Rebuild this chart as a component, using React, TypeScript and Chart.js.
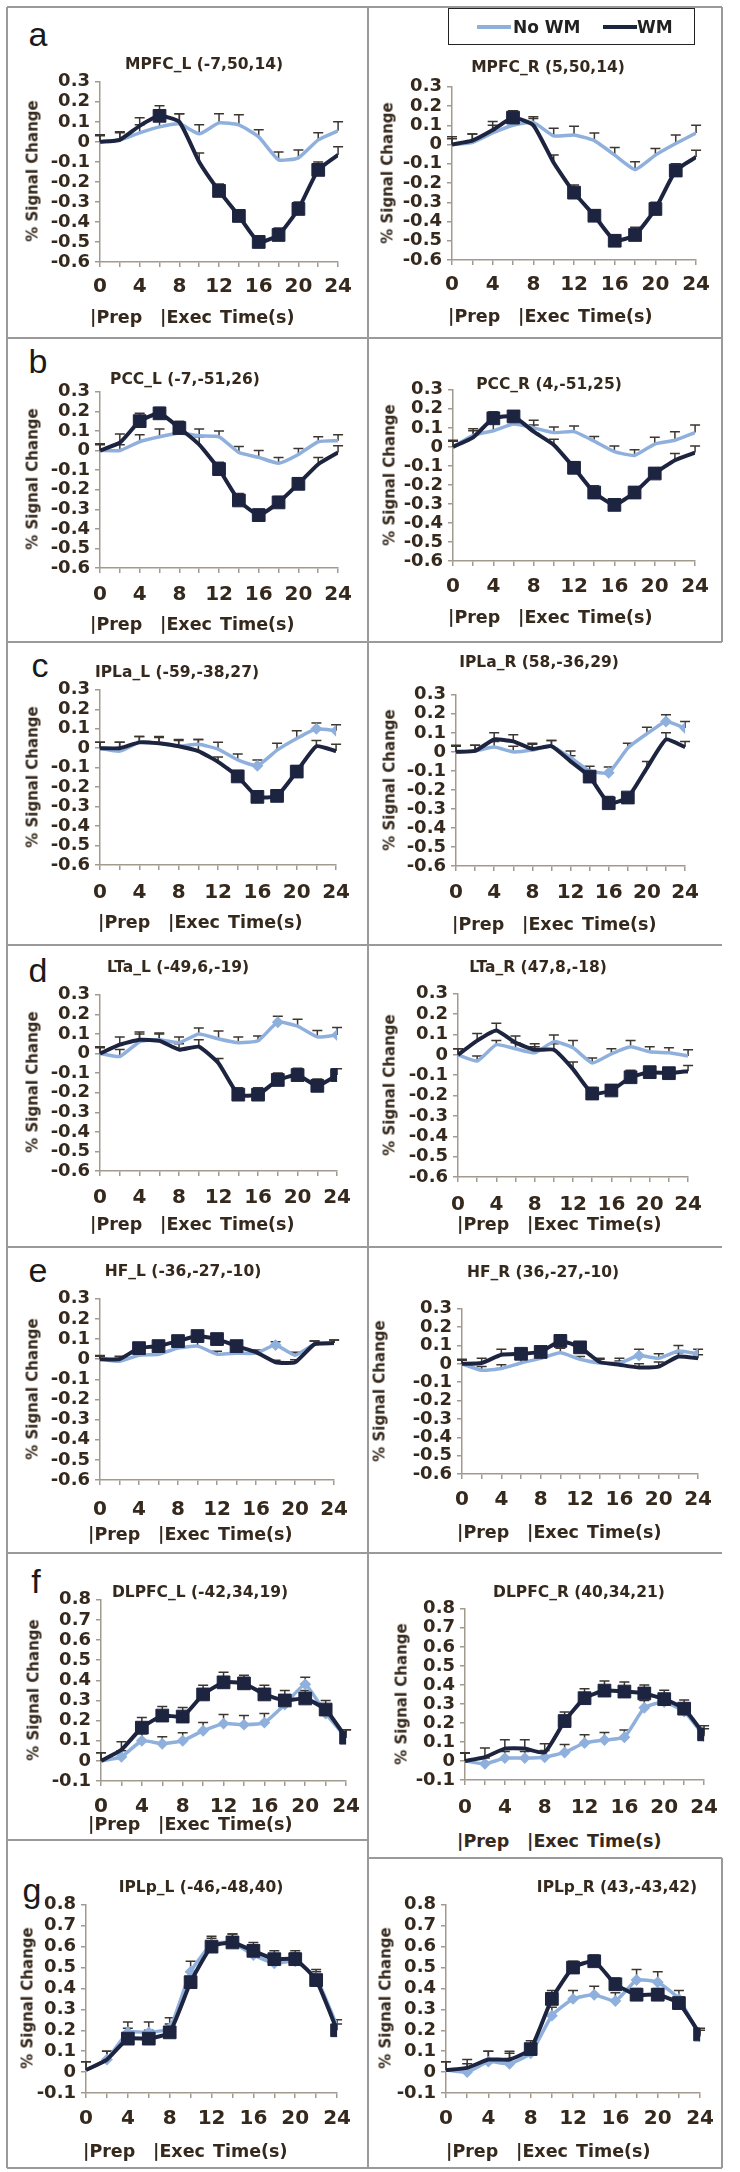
import React, { useEffect, useRef } from 'react';
import { Chart, registerables } from 'chart.js';
Chart.register(...registerables);

// ---------- data ----------
const TIME = [0, 2, 4, 6, 8, 10, 12, 14, 16, 18, 20, 22, 24];
const X_TICK_LABELS = ['0', '4', '8', '12', '16', '20', '24'];
const Y_TICKS_DEACT = [-0.6, -0.5, -0.4, -0.3, -0.2, -0.1, 0, 0.1, 0.2, 0.3];
const Y_TICKS_ACT = [-0.1, 0, 0.1, 0.2, 0.3, 0.4, 0.5, 0.6, 0.7, 0.8];
const SERIES_NAMES = ['No WM', 'WM'];

// a: MPFC
const MPFC_L_NOWM = [0, 0.01, 0.045, 0.075, 0.09, 0.04, 0.095, 0.085, 0.025, -0.09, -0.08, 0.01, 0.055];
const MPFC_L_NOWM_ERR = [0.035, 0.04, 0.04, 0.05, 0.05, 0.045, 0.045, 0.05, 0.035, 0.04, 0.04, 0.035, 0.045];
const MPFC_L_WM = [0, 0.01, 0.08, 0.13, 0.1, -0.1, -0.245, -0.37, -0.5, -0.465, -0.335, -0.14, -0.065];
const MPFC_L_WM_ERR = [0.03, 0.035, 0.04, 0.05, 0.04, 0.045, 0.035, 0.03, 0.03, 0.035, 0.035, 0.04, 0.04];
const MPFC_L_MARKS = [3, 6, 7, 8, 9, 10, 11];

const MPFC_R_NOWM = [0, 0.01, 0.06, 0.1, 0.115, 0.045, 0.05, 0.02, -0.055, -0.13, -0.055, 0.005, 0.06];
const MPFC_R_NOWM_ERR = [0.04, 0.045, 0.04, 0.04, 0.03, 0.04, 0.045, 0.04, 0.04, 0.04, 0.035, 0.045, 0.04];
const MPFC_R_WM = [0, 0.02, 0.075, 0.14, 0.1, -0.095, -0.25, -0.37, -0.5, -0.47, -0.335, -0.135, -0.065];
const MPFC_R_WM_ERR = [0.03, 0.035, 0.045, 0.035, 0.035, 0.04, 0.04, 0.03, 0.03, 0.04, 0.035, 0.035, 0.035];
const MPFC_R_MARKS = [3, 6, 7, 8, 9, 10, 11];

// b: PCC
const PCC_L_NOWM = [0, 0, 0.045, 0.07, 0.09, 0.075, 0.07, -0.01, -0.035, -0.065, -0.02, 0.045, 0.05];
const PCC_L_NOWM_ERR = [0.035, 0.03, 0.035, 0.04, 0.03, 0.035, 0.03, 0.03, 0.035, 0.03, 0.03, 0.025, 0.03];
const PCC_L_WM = [0, 0.04, 0.15, 0.19, 0.115, 0.03, -0.095, -0.255, -0.33, -0.265, -0.17, -0.07, -0.01];
const PCC_L_WM_ERR = [0.03, 0.045, 0.04, 0.03, 0.035, 0.04, 0.035, 0.035, 0.03, 0.03, 0.03, 0.035, 0.035];
const PCC_L_MARKS = [2, 3, 4, 6, 7, 8, 9, 10];

const PCC_R_NOWM = [0, 0.06, 0.085, 0.12, 0.1, 0.075, 0.08, 0.03, -0.025, -0.045, 0.015, 0.035, 0.075];
const PCC_R_NOWM_ERR = [0.035, 0.035, 0.04, 0.035, 0.04, 0.03, 0.03, 0.025, 0.03, 0.03, 0.035, 0.045, 0.04];
const PCC_R_WM = [0, 0.05, 0.15, 0.16, 0.08, 0.01, -0.11, -0.24, -0.305, -0.24, -0.14, -0.07, -0.03];
const PCC_R_WM_ERR = [0.03, 0.035, 0.035, 0.03, 0.035, 0.03, 0.03, 0.035, 0.03, 0.03, 0.03, 0.035, 0.035];
const PCC_R_MARKS = [2, 3, 6, 7, 8, 9, 10];

// c: IPLa
const IPLA_L_NOWM = [0, -0.015, 0.03, 0.025, 0.01, 0.02, -0.005, -0.06, -0.09, -0.01, 0.05, 0.1, 0.09];
const IPLA_L_NOWM_ERR = [0.03, 0.045, 0.03, 0.035, 0.035, 0.025, 0.035, 0.03, 0.03, 0.035, 0.04, 0.03, 0.03];
const IPLA_L_WM = [0, 0, 0.03, 0.025, 0.01, -0.015, -0.07, -0.145, -0.25, -0.245, -0.12, 0.01, -0.015];
const IPLA_L_WM_ERR = [0.03, 0.03, 0.03, 0.03, 0.03, 0.06, 0.025, 0.03, 0.025, 0.02, 0.03, 0.03, 0.035];
const IPLA_L_MARKS = [7, 8, 9, 10];
const IPLA_L_NOWM_MARKS = [8, 11, 12];

const IPLA_R_NOWM = [0, 0.005, 0.025, 0, 0.01, 0.03, -0.03, -0.1, -0.11, 0.02, 0.095, 0.16, 0.125];
const IPLA_R_NOWM_ERR = [0.035, 0.03, 0.03, 0.03, 0.03, 0.03, 0.035, 0.025, 0.03, 0.025, 0.035, 0.035, 0.035];
const IPLA_R_WM = [0, 0.005, 0.065, 0.055, 0.015, 0.03, -0.05, -0.13, -0.27, -0.24, -0.085, 0.065, 0.025];
const IPLA_R_WM_ERR = [0.03, 0.03, 0.035, 0.035, 0.03, 0.03, 0.03, 0.03, 0.035, 0.025, 0.035, 0.035, 0.03];
const IPLA_R_MARKS = [7, 8, 9];
const IPLA_R_NOWM_MARKS = [8, 11, 12];

// d: LTa
const LTA_L_NOWM = [0, -0.015, 0.06, 0.07, 0.055, 0.1, 0.075, 0.055, 0.065, 0.16, 0.14, 0.085, 0.095];
const LTA_L_NOWM_ERR = [0.035, 0.035, 0.04, 0.035, 0.03, 0.03, 0.04, 0.03, 0.025, 0.03, 0.035, 0.033, 0.038];
const LTA_L_WM = [0, 0.045, 0.07, 0.065, 0.02, 0.035, -0.05, -0.21, -0.21, -0.135, -0.11, -0.165, -0.11];
const LTA_L_WM_ERR = [0.03, 0.04, 0.04, 0.035, 0.03, 0.035, 0.025, 0.035, 0.035, 0.035, 0.035, 0.035, 0.032];
const LTA_L_MARKS = [7, 8, 9, 10, 11, 12];
const LTA_L_NOWM_MARKS = [9, 12];

const LTA_R_NOWM = [0, -0.03, 0.05, 0.03, 0.01, 0.065, 0.035, -0.04, 0.005, 0.04, 0.015, 0.01, -0.005];
const LTA_R_NOWM_ERR = [0.03, 0.025, 0.02, 0.03, 0.03, 0.033, 0.035, 0.025, 0.025, 0.03, 0.025, 0.025, 0.03];
const LTA_R_WM = [0, 0.07, 0.12, 0.06, 0.025, 0.025, -0.07, -0.19, -0.175, -0.11, -0.085, -0.09, -0.08];
const LTA_R_WM_ERR = [0.03, 0.035, 0.035, 0.033, 0.03, 0.03, 0.035, 0.03, 0.025, 0.035, 0.025, 0.025, 0.028];
const LTA_R_MARKS = [7, 8, 9, 10, 11];

// e: HF
const HF_L_NOWM = [0, -0.01, 0.02, 0.025, 0.055, 0.065, 0.025, 0.03, 0.03, 0.07, 0.02, 0.075, 0.08];
const HF_L_NOWM_ERR = [0.015, 0.015, 0.015, 0.015, 0.015, 0.023, 0.015, 0.015, 0.015, 0.017, 0.015, 0.015, 0.015];
const HF_L_WM = [0, 0, 0.055, 0.065, 0.09, 0.115, 0.1, 0.065, 0.035, -0.015, -0.015, 0.075, 0.08];
const HF_L_WM_ERR = [0.018, 0.015, 0.02, 0.02, 0.02, 0.02, 0.02, 0.02, 0.01, 0.01, 0.012, 0.015, 0.015];
const HF_L_MARKS = [2, 3, 4, 5, 6, 7];
const HF_L_NOWM_MARKS = [9];

const HF_R_NOWM = [0, -0.035, -0.025, 0.005, 0.03, 0.06, 0.025, 0.005, 0.005, 0.045, 0.03, 0.07, 0.055];
const HF_R_NOWM_ERR = [0.025, 0.02, 0.02, 0.02, 0.02, 0.025, 0.015, 0.02, 0.025, 0.035, 0.025, 0.03, 0.025];
const HF_R_WM = [0, 0.005, 0.05, 0.055, 0.065, 0.125, 0.09, 0.01, -0.005, -0.02, -0.015, 0.04, 0.03];
const HF_R_WM_ERR = [0.02, 0.025, 0.03, 0.02, 0.02, 0.02, 0.02, 0.02, 0.02, 0.02, 0.025, 0.02, 0.02];
const HF_R_MARKS = [3, 4, 5, 6];
const HF_R_NOWM_MARKS = [9, 12];

// f: DLPFC
const DLPFC_L_NOWM = [0, 0.02, 0.1, 0.085, 0.1, 0.15, 0.185, 0.18, 0.19, 0.28, 0.38, 0.235, 0.115];
const DLPFC_L_NOWM_ERR = [0.04, 0.03, 0.035, 0.035, 0.04, 0.04, 0.045, 0.045, 0.045, 0.04, 0.035, 0.04, 0.04];
const DLPFC_L_WM = [0, 0.055, 0.165, 0.225, 0.22, 0.33, 0.39, 0.385, 0.33, 0.3, 0.31, 0.255, 0.115];
const DLPFC_L_WM_ERR = [0.04, 0.04, 0.05, 0.045, 0.045, 0.045, 0.05, 0.04, 0.045, 0.05, 0.04, 0.045, 0.04];
const DLPFC_L_MARKS = [2, 3, 4, 5, 6, 7, 8, 9, 10, 11, 12];
const DLPFC_L_NOWM_MARKS = [1, 2, 3, 4, 5, 6, 7, 8, 9, 10, 11, 12];

const DLPFC_R_NOWM = [0, -0.015, 0.015, 0.015, 0.02, 0.045, 0.095, 0.11, 0.125, 0.28, 0.31, 0.26, 0.13];
const DLPFC_R_NOWM_ERR = [0.04, 0.03, 0.035, 0.035, 0.035, 0.042, 0.043, 0.04, 0.038, 0.038, 0.04, 0.04, 0.04];
const DLPFC_R_WM = [0, 0.02, 0.065, 0.065, 0.045, 0.21, 0.33, 0.37, 0.365, 0.355, 0.325, 0.275, 0.14];
const DLPFC_R_WM_ERR = [0.043, 0.048, 0.047, 0.047, 0.045, 0.048, 0.05, 0.05, 0.05, 0.045, 0.047, 0.045, 0.045];
const DLPFC_R_MARKS = [5, 6, 7, 8, 9, 10, 11, 12];
const DLPFC_R_NOWM_MARKS = [1, 2, 3, 4, 5, 6, 7, 8, 9, 10, 11, 12];

// g: IPLp
const IPLP_L_NOWM = [0.01, 0.06, 0.19, 0.19, 0.21, 0.48, 0.61, 0.62, 0.56, 0.52, 0.53, 0.45, 0.22];
const IPLP_L_NOWM_ERR = [0.04, 0.04, 0.05, 0.05, 0.05, 0.05, 0.04, 0.04, 0.04, 0.04, 0.04, 0.04, 0.03];
const IPLP_L_WM = [0.01, 0.06, 0.16, 0.16, 0.19, 0.43, 0.6, 0.62, 0.58, 0.54, 0.54, 0.44, 0.2];
const IPLP_L_WM_ERR = [0.04, 0.04, 0.05, 0.04, 0.04, 0.05, 0.04, 0.04, 0.04, 0.04, 0.04, 0.04, 0.03];
const IPLP_L_MARKS = [2, 3, 4, 5, 6, 7, 8, 9, 10, 11, 12];
const IPLP_L_NOWM_MARKS = [1, 2, 3, 4, 5, 6, 7, 8, 9, 10, 11, 12];

const IPLP_R_NOWM = [0.01, 0, 0.05, 0.04, 0.09, 0.27, 0.35, 0.37, 0.34, 0.44, 0.43, 0.35, 0.17];
const IPLP_R_NOWM_ERR = [0.04, 0.04, 0.05, 0.05, 0.04, 0.04, 0.04, 0.04, 0.04, 0.05, 0.05, 0.04, 0.03];
const IPLP_R_WM = [0.01, 0.02, 0.06, 0.06, 0.11, 0.35, 0.5, 0.53, 0.42, 0.37, 0.37, 0.33, 0.18];
const IPLP_R_WM_ERR = [0.04, 0.04, 0.04, 0.04, 0.04, 0.04, 0.03, 0.03, 0.03, 0.03, 0.03, 0.03, 0.03];
const IPLP_R_MARKS = [4, 5, 6, 7, 8, 9, 10, 11, 12];
const IPLP_R_NOWM_MARKS = [1, 2, 3, 4, 5, 6, 7, 8, 9, 10, 11, 12];

type Panel = {
  id: string; title: string; noWM: number[]; noWMErr: number[]; wm: number[]; wmErr: number[];
  wmMarks: number[]; noWMMarks: number[]; yTicks: number[];
};

const PANELS: Panel[] = [
  { id: 'aL', title: 'MPFC_L (-7,50,14)', noWM: MPFC_L_NOWM, noWMErr: MPFC_L_NOWM_ERR, wm: MPFC_L_WM, wmErr: MPFC_L_WM_ERR, wmMarks: MPFC_L_MARKS, noWMMarks: [], yTicks: Y_TICKS_DEACT },
  { id: 'aR', title: 'MPFC_R (5,50,14)', noWM: MPFC_R_NOWM, noWMErr: MPFC_R_NOWM_ERR, wm: MPFC_R_WM, wmErr: MPFC_R_WM_ERR, wmMarks: MPFC_R_MARKS, noWMMarks: [], yTicks: Y_TICKS_DEACT },
  { id: 'bL', title: 'PCC_L (-7,-51,26)', noWM: PCC_L_NOWM, noWMErr: PCC_L_NOWM_ERR, wm: PCC_L_WM, wmErr: PCC_L_WM_ERR, wmMarks: PCC_L_MARKS, noWMMarks: [], yTicks: Y_TICKS_DEACT },
  { id: 'bR', title: 'PCC_R (4,-51,25)', noWM: PCC_R_NOWM, noWMErr: PCC_R_NOWM_ERR, wm: PCC_R_WM, wmErr: PCC_R_WM_ERR, wmMarks: PCC_R_MARKS, noWMMarks: [], yTicks: Y_TICKS_DEACT },
  { id: 'cL', title: 'IPLa_L (-59,-38,27)', noWM: IPLA_L_NOWM, noWMErr: IPLA_L_NOWM_ERR, wm: IPLA_L_WM, wmErr: IPLA_L_WM_ERR, wmMarks: IPLA_L_MARKS, noWMMarks: IPLA_L_NOWM_MARKS, yTicks: Y_TICKS_DEACT },
  { id: 'cR', title: 'IPLa_R (58,-36,29)', noWM: IPLA_R_NOWM, noWMErr: IPLA_R_NOWM_ERR, wm: IPLA_R_WM, wmErr: IPLA_R_WM_ERR, wmMarks: IPLA_R_MARKS, noWMMarks: IPLA_R_NOWM_MARKS, yTicks: Y_TICKS_DEACT },
  { id: 'dL', title: 'LTa_L (-49,6,-19)', noWM: LTA_L_NOWM, noWMErr: LTA_L_NOWM_ERR, wm: LTA_L_WM, wmErr: LTA_L_WM_ERR, wmMarks: LTA_L_MARKS, noWMMarks: LTA_L_NOWM_MARKS, yTicks: Y_TICKS_DEACT },
  { id: 'dR', title: 'LTa_R (47,8,-18)', noWM: LTA_R_NOWM, noWMErr: LTA_R_NOWM_ERR, wm: LTA_R_WM, wmErr: LTA_R_WM_ERR, wmMarks: LTA_R_MARKS, noWMMarks: [], yTicks: Y_TICKS_DEACT },
  { id: 'eL', title: 'HF_L (-36,-27,-10)', noWM: HF_L_NOWM, noWMErr: HF_L_NOWM_ERR, wm: HF_L_WM, wmErr: HF_L_WM_ERR, wmMarks: HF_L_MARKS, noWMMarks: HF_L_NOWM_MARKS, yTicks: Y_TICKS_DEACT },
  { id: 'eR', title: 'HF_R (36,-27,-10)', noWM: HF_R_NOWM, noWMErr: HF_R_NOWM_ERR, wm: HF_R_WM, wmErr: HF_R_WM_ERR, wmMarks: HF_R_MARKS, noWMMarks: HF_R_NOWM_MARKS, yTicks: Y_TICKS_DEACT },
  { id: 'fL', title: 'DLPFC_L (-42,34,19)', noWM: DLPFC_L_NOWM, noWMErr: DLPFC_L_NOWM_ERR, wm: DLPFC_L_WM, wmErr: DLPFC_L_WM_ERR, wmMarks: DLPFC_L_MARKS, noWMMarks: DLPFC_L_NOWM_MARKS, yTicks: Y_TICKS_ACT },
  { id: 'fR', title: 'DLPFC_R (40,34,21)', noWM: DLPFC_R_NOWM, noWMErr: DLPFC_R_NOWM_ERR, wm: DLPFC_R_WM, wmErr: DLPFC_R_WM_ERR, wmMarks: DLPFC_R_MARKS, noWMMarks: DLPFC_R_NOWM_MARKS, yTicks: Y_TICKS_ACT },
  { id: 'gL', title: 'IPLp_L (-46,-48,40)', noWM: IPLP_L_NOWM, noWMErr: IPLP_L_NOWM_ERR, wm: IPLP_L_WM, wmErr: IPLP_L_WM_ERR, wmMarks: IPLP_L_MARKS, noWMMarks: IPLP_L_NOWM_MARKS, yTicks: Y_TICKS_ACT },
  { id: 'gR', title: 'IPLp_R (43,-43,42)', noWM: IPLP_R_NOWM, noWMErr: IPLP_R_NOWM_ERR, wm: IPLP_R_WM, wmErr: IPLP_R_WM_ERR, wmMarks: IPLP_R_MARKS, noWMMarks: IPLP_R_NOWM_MARKS, yTicks: Y_TICKS_ACT },
];

const PANEL_LETTERS = ['a', 'b', 'c', 'd', 'e', 'f', 'g'];
const Y_TITLE = '% Signal Change';
const X_NOTES = ['|Prep', '|Exec', 'Time(s)'];

// ---------- layout (page px) ----------
type Lay = { l: number; t: number; r: number; b: number; tx: number; ty: number; yt: number; px: number; py: number; xg: number };
const LAYOUT: Record<string, Lay> = {
  aL: { l: 100, t: 80, r: 342, b: 262, tx: 204, ty: 65, yt: 33, px: 90, py: 318, xg: 25 },
  aR: { l: 452, t: 85, r: 700, b: 260, tx: 548, ty: 68, yt: 388, px: 448, py: 317, xg: 25 },
  bL: { l: 100, t: 390, r: 344, b: 568, tx: 185, ty: 380, yt: 33, px: 90, py: 625, xg: 27 },
  bR: { l: 453, t: 388, r: 700, b: 561, tx: 549, ty: 385, yt: 390, px: 448, py: 618, xg: 26 },
  cL: { l: 100, t: 688, r: 343, b: 865, tx: 177, ty: 673, yt: 33, px: 98, py: 923, xg: 28 },
  cR: { l: 456, t: 693, r: 691, b: 866, tx: 539, ty: 663, yt: 390, px: 452, py: 925, xg: 27 },
  dL: { l: 100, t: 993, r: 343, b: 1171, tx: 178, ty: 968, yt: 33, px: 90, py: 1225, xg: 27 },
  dR: { l: 458, t: 992, r: 695, b: 1177, tx: 538, ty: 968, yt: 390, px: 457, py: 1225, xg: 28 },
  eL: { l: 100, t: 1297, r: 343, b: 1480, tx: 183, ty: 1272, yt: 33, px: 88, py: 1535, xg: 30 },
  eR: { l: 462, t: 1307, r: 703, b: 1474, tx: 543, ty: 1273, yt: 380, px: 457, py: 1533, xg: 26 },
  fL: { l: 101, t: 1598, r: 351, b: 1781, tx: 200, ty: 1593, yt: 34, px: 88, py: 1825, xg: 26 },
  fR: { l: 465, t: 1607, r: 711, b: 1780, tx: 579, ty: 1593, yt: 402, px: 457, py: 1842, xg: 28 },
  gL: { l: 86, t: 1903, r: 342, b: 2093, tx: 201, ty: 1888, yt: 28, px: 83, py: 2152, xg: 26 },
  gR: { l: 446, t: 1903, r: 705, b: 2093, tx: 617, ty: 1888, yt: 386, px: 446, py: 2152, xg: 26 },
};
const LETTER_POS = [[38, 34], [38, 361], [40, 665], [38, 970], [38, 1270], [36, 1581], [32, 1890]];
// [y, x1, x2]
const H_LINES = [[7, 7, 722], [338, 7, 722], [642, 7, 722], [945, 7, 722], [1247, 7, 722], [1553, 7, 722], [1840, 7, 368], [1858, 368, 722], [2168, 7, 722]];

const YW = 80, PAD_T = 14, PAD_R = 18, XH = 50;
const TEXT = '#35281c';
const AXIS = '#a39a8f';
const DARK = '#1d2440';
const LIGHT = '#8fb0dd';
const FONT = "'DejaVu Sans', sans-serif";
const X_TICK_SIZE = 20;
const Y_TICK_SIZE = 18;
const NOTE_OFFSETS = [0, 70, 130];

const errorBarPlugin = {
  id: 'errorBars',
  beforeDatasetsDraw(chart: any) {
    const ctx = chart.ctx;
    const xs = chart.scales.x, ys = chart.scales.y;
    chart.data.datasets.forEach((ds: any) => {
      if (!ds.errors) return;
      ctx.save();
      ctx.strokeStyle = '#3c3630';
      ctx.lineWidth = 1.5;
      ds.data.forEach((p: any, i: number) => {
        const x = xs.getPixelForValue(p.x);
        const y0 = ys.getPixelForValue(p.y);
        const y1 = ys.getPixelForValue(p.y + ds.errors[i]);
        ctx.beginPath();
        ctx.moveTo(x, y0);
        ctx.lineTo(x, y1);
        ctx.moveTo(x - 5, y1);
        ctx.lineTo(x + 5, y1);
        ctx.stroke();
      });
      ctx.restore();
    });
  },
};

function fmtY(v: number) {
  const r = Math.round(v * 10) / 10;
  return r === 0 ? '0' : r.toFixed(1);
}

function PanelChart({ p }: { p: Panel }) {
  const ref = useRef<HTMLCanvasElement | null>(null);
  const L = LAYOUT[p.id];
  const w = YW + (L.r - L.l) + PAD_R;
  const h = PAD_T + (L.b - L.t) + XH;
  useEffect(() => {
    if (!ref.current) return;
    const tickPad = L.xg - 5 - (X_TICK_SIZE * 1.2) / 2;
    const chart = new Chart(ref.current, {
      type: 'line',
      data: {
        datasets: [
          {
            label: SERIES_NAMES[1],
            data: TIME.map((t, i) => ({ x: t, y: p.wm[i] })),
            errors: p.wmErr,
            borderColor: DARK,
            backgroundColor: DARK,
            borderWidth: 4,
            tension: 0.15,
            pointStyle: 'rect',
            pointRadius: TIME.map((_, i) => (p.wmMarks.includes(i) ? 9 : 0)),
            pointBackgroundColor: DARK,
            pointBorderColor: DARK,
            pointBorderWidth: 1,
            order: 0,
          } as any,
          {
            label: SERIES_NAMES[0],
            data: TIME.map((t, i) => ({ x: t, y: p.noWM[i] })),
            errors: p.noWMErr,
            borderColor: LIGHT,
            backgroundColor: LIGHT,
            borderWidth: 3.5,
            tension: 0.15,
            pointStyle: 'rectRot',
            pointRadius: TIME.map((_, i) => (p.noWMMarks.includes(i) ? 3.5 : 0)),
            pointBackgroundColor: LIGHT,
            pointBorderColor: LIGHT,
            order: 1,
          } as any,
        ],
      },
      options: {
        animation: false,
        responsive: false,
        devicePixelRatio: 1,
        layout: { padding: { left: 0, top: PAD_T, right: PAD_R, bottom: 0 } },
        plugins: { legend: { display: false }, tooltip: { enabled: false }, title: { display: false } },
        scales: {
          x: {
            type: 'linear',
            min: TIME[0],
            max: TIME[TIME.length - 1],
            afterBuildTicks: (s: any) => { s.ticks = TIME.map((v) => ({ value: v })); },
            ticks: {
              autoSkip: false,
              maxRotation: 0,
              padding: tickPad,
              color: TEXT,
              font: { family: FONT, size: X_TICK_SIZE, weight: 'bold' },
              callback: (v: any) => (X_TICK_LABELS.includes(String(v)) ? String(v) : ''),
            },
            grid: { drawOnChartArea: false, drawTicks: true, tickLength: 5, color: AXIS, lineWidth: 1.5 },
            border: { color: AXIS, width: 1.5 },
            afterFit: (s: any) => { s.height = XH; },
          },
          y: {
            min: p.yTicks[0],
            max: p.yTicks[p.yTicks.length - 1],
            afterBuildTicks: (s: any) => { s.ticks = p.yTicks.map((v) => ({ value: v })); },
            ticks: {
              autoSkip: false,
              padding: 5,
              color: TEXT,
              font: { family: FONT, size: Y_TICK_SIZE, weight: 'bold' },
              callback: (v: any) => fmtY(Number(v)),
            },
            grid: { drawOnChartArea: false, drawTicks: true, tickLength: 5, color: AXIS, lineWidth: 1.5 },
            border: { color: AXIS, width: 1.5 },
            afterFit: (s: any) => { s.width = YW; },
          },
        },
      } as any,
      plugins: [errorBarPlugin],
    });
    return () => chart.destroy();
  }, []);
  return (
    <>
      <canvas
        ref={ref}
        width={w}
        height={h}
        style={{ position: 'absolute', left: L.l - YW, top: L.t - PAD_T, width: w, height: h }}
      />
      <div style={{ position: 'absolute', left: L.tx, top: L.ty, transform: 'translate(-50%,-50%)', whiteSpace: 'nowrap', font: `bold 15.5px ${FONT}`, color: TEXT, lineHeight: 1 }}>
        {p.title}
      </div>
      <div style={{ position: 'absolute', left: L.yt, top: (L.t + L.b) / 2, transform: 'translate(-50%,-50%) rotate(-90deg)', whiteSpace: 'nowrap', font: `bold 15px ${FONT}`, color: TEXT, lineHeight: 1 }}>
        {Y_TITLE}
      </div>
      {X_NOTES.map((s, i) => (
        <div key={s} style={{ position: 'absolute', left: L.px + NOTE_OFFSETS[i], top: L.py, transform: 'translateY(-50%)', whiteSpace: 'nowrap', font: `bold 17.5px ${FONT}`, color: TEXT, lineHeight: 1 }}>
          {s}
        </div>
      ))}
    </>
  );
}

export default function App() {
  const line = (style: any, k: string) => <div key={k} style={{ position: 'absolute', background: '#9a9a9a', ...style }} />;
  return (
    <div style={{ position: 'absolute', left: 0, top: 0, width: 740, height: 2172, background: '#fff', overflow: 'hidden' }}>
      {H_LINES.map(([y, x1, x2], i) => line({ left: x1, top: y - 1, width: x2 - x1, height: 2 }, 'h' + i))}
      {line({ left: 6, top: 7, width: 2, height: 2161 }, 'v0')}
      {line({ left: 367, top: 7, width: 2, height: 2161 }, 'v1')}
      {line({ left: 721, top: 7, width: 2, height: 635 }, 'v2')}
      {line({ left: 721, top: 1858, width: 2, height: 310 }, 'v3')}
      {PANEL_LETTERS.map((ch, i) => (
        <div key={ch} style={{ position: 'absolute', left: LETTER_POS[i][0], top: LETTER_POS[i][1], transform: 'translate(-50%,-50%)', font: "34px 'Liberation Sans', sans-serif", color: '#1a1a1a', lineHeight: 1 }}>
          {ch}
        </div>
      ))}
      {PANELS.map((p) => <PanelChart key={p.id} p={p} />)}
      <div style={{ position: 'absolute', left: 448, top: 8, width: 245, height: 35, border: '1.5px solid #222', background: '#fff' }}>
        <div style={{ position: 'absolute', left: 28, top: 16, width: 34, height: 4, background: LIGHT }} />
        <div style={{ position: 'absolute', left: 64, top: 18, transform: 'translateY(-50%)', font: `bold 17px ${FONT}`, color: '#222', lineHeight: 1, whiteSpace: 'nowrap' }}>{SERIES_NAMES[0]}</div>
        <div style={{ position: 'absolute', left: 154, top: 16, width: 34, height: 4, background: DARK }} />
        <div style={{ position: 'absolute', left: 188, top: 18, transform: 'translateY(-50%)', font: `bold 17px ${FONT}`, color: '#222', lineHeight: 1, whiteSpace: 'nowrap' }}>{SERIES_NAMES[1]}</div>
      </div>
    </div>
  );
}
